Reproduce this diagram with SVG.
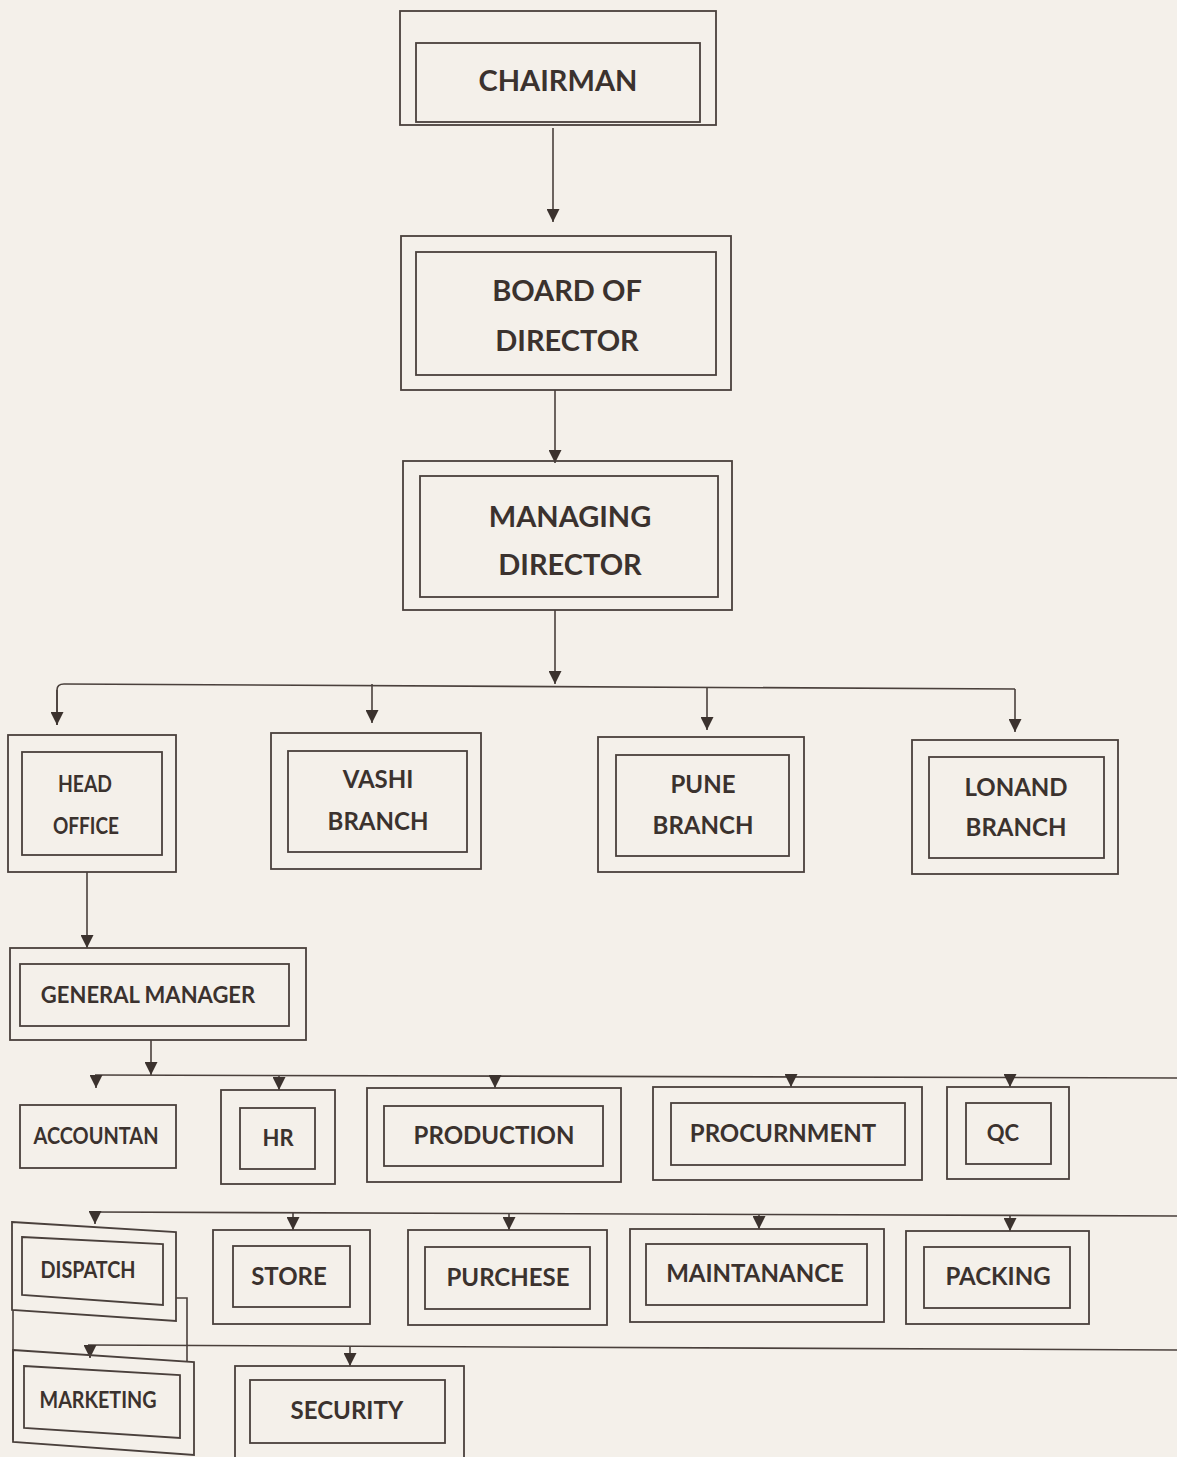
<svg xmlns="http://www.w3.org/2000/svg" width="1177" height="1457" viewBox="0 0 1177 1457">
<style>
.b{fill:none;stroke:#4a403c;stroke-width:1.8}
.c{fill:none;stroke:#4a403c;stroke-width:1.6}
.t{font-family:Lato,"Open Sans",sans-serif;font-weight:bold;fill:#3b322e;text-anchor:middle}
.l{font-size:29px}
.m{font-size:24px}
.s{font-size:22px}
.x{font-size:23px}
</style>
<defs>
<marker id="a" viewBox="0 0 10 10" refX="10" refY="5" markerWidth="13" markerHeight="13" markerUnits="userSpaceOnUse" orient="auto">
<path d="M0,0 L10,5 L0,10 z" fill="#3b322e"/>
</marker>
</defs>
<rect width="1177" height="1457" fill="#f4f0ea"/>
<g id="connectors">
<path class="c" d="M553,128 V222" marker-end="url(#a)"/>
<path class="c" d="M555,390 V463" marker-end="url(#a)"/>
<path class="c" d="M555,610 V684" marker-end="url(#a)"/>
<path class="c" d="M57,725 V690 Q57,684 64,684 L1015,689"/>
<path class="c" d="M57,690 V725" marker-end="url(#a)"/>
<path class="c" d="M372,684 V723" marker-end="url(#a)"/>
<path class="c" d="M707,688 V730" marker-end="url(#a)"/>
<path class="c" d="M1015,689 V732" marker-end="url(#a)"/>
<path class="c" d="M87,872 V948" marker-end="url(#a)"/>
<path class="c" d="M151,1040 V1075" marker-end="url(#a)"/>
<path class="c" d="M95,1075 L1177,1078"/>
<path class="c" d="M96,1075 V1088" marker-end="url(#a)"/>
<path class="c" d="M279,1075 V1090" marker-end="url(#a)"/>
<path class="c" d="M495,1076 V1088" marker-end="url(#a)"/>
<path class="c" d="M791,1076 V1087" marker-end="url(#a)"/>
<path class="c" d="M1010,1077 V1087" marker-end="url(#a)"/>
<path class="c" d="M93,1212 L1177,1216"/>
<path class="c" d="M95,1212 V1224" marker-end="url(#a)"/>
<path class="c" d="M293,1213 V1230" marker-end="url(#a)"/>
<path class="c" d="M509,1213 V1230" marker-end="url(#a)"/>
<path class="c" d="M759,1214 V1229" marker-end="url(#a)"/>
<path class="c" d="M1010,1215 V1231" marker-end="url(#a)"/>
<path class="c" d="M176,1298 H187 V1362"/>
<path class="c" d="M88,1345 L1177,1350"/>
<path class="c" d="M90,1345 V1358" marker-end="url(#a)"/>
<path class="c" d="M350,1347 V1366" marker-end="url(#a)"/>
</g>
<g id="chairman">
<rect class="b" x="400" y="11" width="316" height="114"/>
<rect class="b" x="416" y="43" width="284" height="79"/>
<text class="t l" x="558" y="91">CHAIRMAN</text>
</g>
<g id="board">
<rect class="b" x="401" y="236" width="330" height="154"/>
<rect class="b" x="416" y="252" width="300" height="123"/>
<text class="t l" x="567" y="301">BOARD OF</text>
<text class="t l" x="567" y="351">DIRECTOR</text>
</g>
<g id="md">
<rect class="b" x="403" y="461" width="329" height="149"/>
<rect class="b" x="420" y="476" width="298" height="121"/>
<text class="t l" x="570" y="527">MANAGING</text>
<text class="t l" x="570" y="575">DIRECTOR</text>
</g>
<g id="head-office">
<rect class="b" x="8" y="735" width="168" height="137"/>
<rect class="b" x="22" y="752" width="140" height="103"/>
<text class="t x" x="85" y="792" textLength="54" lengthAdjust="spacingAndGlyphs">HEAD</text>
<text class="t x" x="86" y="834" textLength="66" lengthAdjust="spacingAndGlyphs">OFFICE</text>
</g>
<g id="vashi">
<rect class="b" x="271" y="733" width="210" height="136"/>
<rect class="b" x="288" y="751" width="179" height="101"/>
<text class="t m" x="378" y="788">VASHI</text>
<text class="t m" x="378" y="830">BRANCH</text>
</g>
<g id="pune">
<rect class="b" x="598" y="737" width="206" height="135"/>
<rect class="b" x="616" y="755" width="173" height="101"/>
<text class="t m" x="703" y="793">PUNE</text>
<text class="t m" x="703" y="834">BRANCH</text>
</g>
<g id="lonand">
<rect class="b" x="912" y="740" width="206" height="134"/>
<rect class="b" x="929" y="757" width="175" height="101"/>
<text class="t m" x="1016" y="796">LONAND</text>
<text class="t m" x="1016" y="836">BRANCH</text>
</g>
<g id="gm">
<rect class="b" x="10" y="948" width="296" height="92"/>
<rect class="b" x="20" y="964" width="269" height="62"/>
<text class="t s" x="148" y="1003">GENERAL MANAGER</text>
</g>
<g id="accountan">
<rect class="b" x="20" y="1105" width="156" height="63"/>
<text class="t x" x="96" y="1144" textLength="125" lengthAdjust="spacingAndGlyphs">ACCOUNTAN</text>
</g>
<g id="hr">
<rect class="b" x="221" y="1090" width="114" height="94"/>
<rect class="b" x="240" y="1108" width="75" height="61"/>
<text class="t s" x="278" y="1146">HR</text>
</g>
<g id="production">
<rect class="b" x="367" y="1088" width="254" height="94"/>
<rect class="b" x="384" y="1106" width="219" height="60"/>
<text class="t m" x="494" y="1144">PRODUCTION</text>
</g>
<g id="procurnment">
<rect class="b" x="653" y="1087" width="269" height="93"/>
<rect class="b" x="671" y="1103" width="234" height="62"/>
<text class="t m" x="783" y="1142">PROCURNMENT</text>
</g>
<g id="qc">
<rect class="b" x="947" y="1087" width="122" height="92"/>
<rect class="b" x="966" y="1103" width="85" height="61"/>
<text class="t s" x="1003" y="1141">QC</text>
</g>
<g id="dispatch">
<path class="b" d="M12,1222 L176,1232 V1321 L12,1310 Z"/>
<path class="b" d="M22,1237 L163,1244 V1305 L22,1295 Z"/>
<path class="c" d="M13,1310 V1440"/>
<text class="t x" x="88" y="1278" textLength="95" lengthAdjust="spacingAndGlyphs">DISPATCH</text>
</g>
<g id="store">
<rect class="b" x="213" y="1230" width="157" height="94"/>
<rect class="b" x="233" y="1246" width="117" height="61"/>
<text class="t m" x="289" y="1285">STORE</text>
</g>
<g id="purchese">
<rect class="b" x="408" y="1230" width="199" height="95"/>
<rect class="b" x="425" y="1247" width="165" height="62"/>
<text class="t m" x="508" y="1286">PURCHESE</text>
</g>
<g id="maintanance">
<rect class="b" x="630" y="1229" width="254" height="93"/>
<rect class="b" x="646" y="1244" width="221" height="61"/>
<text class="t m" x="755" y="1282">MAINTANANCE</text>
</g>
<g id="packing">
<rect class="b" x="906" y="1231" width="183" height="93"/>
<rect class="b" x="924" y="1247" width="146" height="61"/>
<text class="t m" x="998" y="1285">PACKING</text>
</g>
<g id="marketing">
<path class="b" d="M13,1350 L194,1362 V1455 L13,1442 Z"/>
<path class="b" d="M24,1366 L180,1375 V1438 L24,1428 Z"/>
<text class="t x" x="98" y="1408" textLength="117" lengthAdjust="spacingAndGlyphs">MARKETING</text>
</g>
<g id="security">
<rect class="b" x="235" y="1366" width="229" height="95"/>
<rect class="b" x="250" y="1380" width="195" height="63"/>
<text class="t m" x="347" y="1419">SECURITY</text>
</g>
</svg>
